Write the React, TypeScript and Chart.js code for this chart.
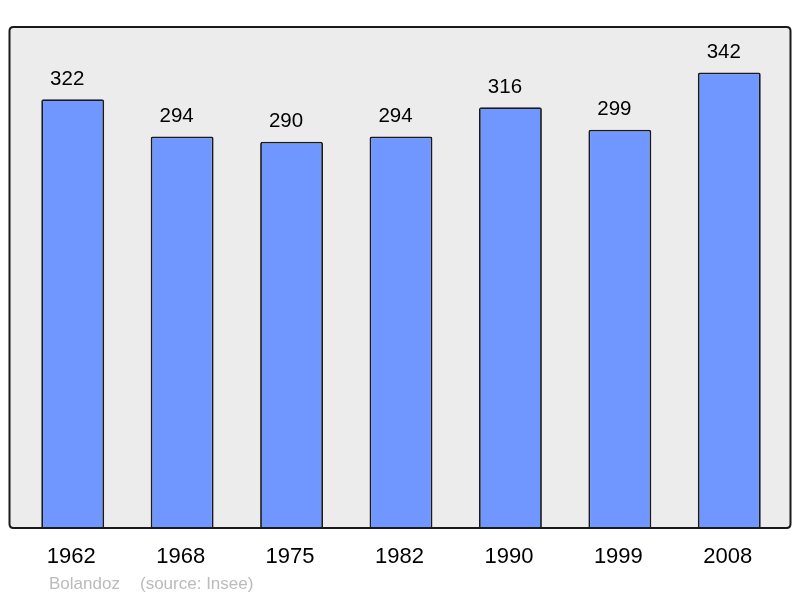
import React, { useEffect, useRef } from "react";
import { Chart, registerables } from "chart.js";

Chart.register(...registerables);

const years = ["1962", "1968", "1975", "1982", "1990", "1999", "2008"];
const population = [322, 294, 290, 294, 316, 299, 342];
const footerName = "Bolandoz";
const footerSource = "(source: Insee)";
const yMax = 376.2;

const FONT = "'Liberation Sans', Arial, sans-serif";

function framePath(ctx: any, y0: number, y1: number) {
  const x0 = 9.5, x1 = 790.5, r = 4;
  ctx.beginPath();
  ctx.moveTo(x0 + r, y0);
  ctx.lineTo(x1 - r, y0);
  ctx.quadraticCurveTo(x1, y0, x1, y0 + r);
  ctx.lineTo(x1, y1 - r);
  ctx.quadraticCurveTo(x1, y1, x1 - r, y1);
  ctx.lineTo(x0 + r, y1);
  ctx.quadraticCurveTo(x0, y1, x0, y1 - r);
  ctx.lineTo(x0, y0 + r);
  ctx.quadraticCurveTo(x0, y0, x0 + r, y0);
  ctx.closePath();
}

const framePlugin = {
  id: "frame",
  beforeDraw(chart: any) {
    const { ctx, chartArea } = chart;
    ctx.save();
    framePath(ctx, chartArea.top, chartArea.bottom);
    ctx.fillStyle = "#ececec";
    ctx.fill();
    ctx.restore();
  },
  afterDatasetsDraw(chart: any) {
    const { ctx, chartArea } = chart;
    ctx.save();
    framePath(ctx, chartArea.top, chartArea.bottom);
    ctx.lineWidth = 2;
    ctx.strokeStyle = "#1a1a1a";
    ctx.stroke();

    const meta = chart.getDatasetMeta(0);
    ctx.fillStyle = "#000";
    ctx.font = `20.5px ${FONT}`;
    ctx.textAlign = "center";
    ctx.textBaseline = "middle";
    meta.data.forEach((bar: any, i: number) => {
      ctx.fillText(String(population[i]), bar.x - 5.5, bar.y - 20);
    });

    const xs = chart.scales.x;
    ctx.font = `22px ${FONT}`;
    years.forEach((y, i) => {
      ctx.fillText(y, xs.getPixelForValue(i) - 1.5, 557);
    });

    ctx.fillStyle = "#bbbbbb";
    ctx.font = `17px ${FONT}`;
    ctx.textAlign = "left";
    ctx.fillText(footerName, 49, 584);
    ctx.fillText(footerSource, 140, 584);
    ctx.restore();
  },
};

export default function App() {
  const ref = useRef<HTMLCanvasElement>(null);
  useEffect(() => {
    document.body.style.margin = "0";
    const chart = new Chart(ref.current!, {
      type: "bar",
      data: {
        labels: years,
        datasets: [
          {
            data: population,
            backgroundColor: "#7096ff",
            borderColor: "#1a1a1a",
            borderWidth: 1.8,
            borderRadius: 2,
            borderSkipped: "bottom",
            barPercentage: 0.575,
            categoryPercentage: 1,
          },
        ],
      },
      options: {
        animation: false,
        responsive: false,
        maintainAspectRatio: false,
        layout: { padding: { left: 18, right: 16, top: 27, bottom: 70 } },
        plugins: { legend: { display: false }, tooltip: { enabled: false } },
        scales: {
          x: { display: false },
          y: { display: false, min: 0, max: yMax },
        },
      },
      plugins: [framePlugin],
    });
    return () => chart.destroy();
  }, []);
  return (
    <div style={{ position: "absolute", left: 0, top: 0, width: 800, height: 598, background: "#fff" }}>
      <canvas ref={ref} width={800} height={598} />
    </div>
  );
}
